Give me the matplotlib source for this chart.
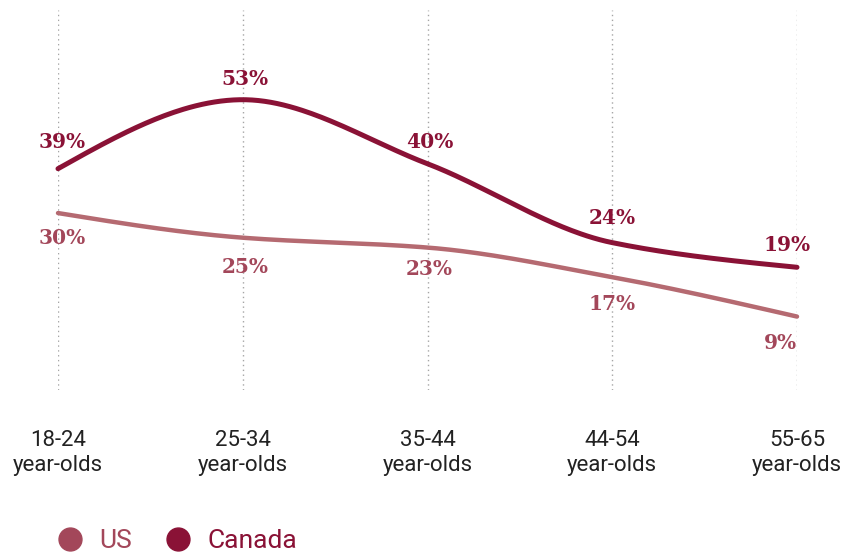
import numpy as np
import matplotlib
matplotlib.use("Agg")
import matplotlib.pyplot as plt
from matplotlib.lines import Line2D

categories = ["18-24\nyear-olds", "25-34\nyear-olds", "35-44\nyear-olds", "44-54\nyear-olds", "55-65\nyear-olds"]
us = [30, 25, 23, 17, 9]
canada = [39, 53, 40, 24, 19]

C_CAN = "#8A1236"
C_US_LINE = "#B56A71"
C_US_TXT = "#A3475A"


def monotone(x, y, n=60):
    x = np.asarray(x, float); y = np.asarray(y, float)
    h = np.diff(x); d = np.diff(y) / h
    m = np.zeros_like(y)
    for i in range(1, len(y) - 1):
        if d[i - 1] * d[i] <= 0:
            m[i] = 0
        else:
            w1 = 2 * h[i] + h[i - 1]; w2 = h[i] + 2 * h[i - 1]
            m[i] = (w1 + w2) / (w1 / d[i - 1] + w2 / d[i])
    m[0] = (3 * d[0] - m[1]) / 2
    m[-1] = (3 * d[-1] - m[-2]) / 2
    xs, ys = [], []
    for i in range(len(x) - 1):
        t = np.linspace(0, 1, n)
        h00 = 2*t**3 - 3*t**2 + 1; h10 = t**3 - 2*t**2 + t
        h01 = -2*t**3 + 3*t**2; h11 = t**3 - t**2
        yy = h00*y[i] + h10*h[i]*m[i] + h01*y[i+1] + h11*h[i]*m[i+1]
        xs.append(x[i] + t*h[i]); ys.append(yy)
    return np.concatenate(xs), np.concatenate(ys)


fig = plt.figure(figsize=(8.58, 5.53), dpi=100)
ax = fig.add_axes([58/858, 1-390/553, (797-58)/858, 380/553])
x = np.arange(len(categories))
ax.set_xlim(0, len(categories) - 1)
ax.set_ylim(-5.9, 71.2)

for xi in x:
    ax.axvline(xi, color="#a5a5a5", lw=1, ls=(0, (1, 2.5)), zorder=0)

xs, ys = monotone(x, us)
ax.plot(xs, ys, color=C_US_LINE, lw=3.2, solid_capstyle="round", clip_on=False)
xs, ys = monotone(x, canada)
ax.plot(xs, ys, color=C_CAN, lw=3.6, solid_capstyle="round", clip_on=False)

lab_font = dict(family=["DejaVu Serif"], fontweight="bold", fontsize=14.5)
can_off = [(4, 27), (2, 21), (2, 22), (0, 25), (-10, 22)]
us_off = [(4, -25), (2, -29), (2, -21), (0, -27), (-17, -26)]
for i, (u, c) in enumerate(zip(us, canada)):
    ax.annotate(f"{c}%", (x[i], c), xytext=can_off[i], textcoords="offset pixels",
                ha="center", va="center", color=C_CAN, **lab_font)
    ax.annotate(f"{u}%", (x[i], u), xytext=us_off[i], textcoords="offset pixels",
                ha="center", va="center", color=C_US_TXT, **lab_font)

ax.set_xticks(x)
ax.set_xticklabels(categories, fontsize=16, color="#222222", family=["Roboto", "DejaVu Sans"],
                   linespacing=1.22)
ax.tick_params(axis="x", length=0, pad=29)
ax.set_yticks([])
for s in ax.spines.values():
    s.set_visible(False)

handles = [Line2D([], [], marker="o", ls="", color=C_US_TXT, markersize=16.5),
           Line2D([], [], marker="o", ls="", color=C_CAN, markersize=16.5)]
leg = fig.legend(handles, ["US", "Canada"], loc="center left", bbox_to_anchor=(20/858, 1-541/553),
                 ncol=2, frameon=False, handletextpad=0.1, columnspacing=0.75,
                 prop={"family": ["Roboto", "DejaVu Sans"], "size": 19})
for t, col in zip(leg.get_texts(), [C_US_TXT, C_CAN]):
    t.set_color(col)

fig.savefig("out.png", dpi=100)
